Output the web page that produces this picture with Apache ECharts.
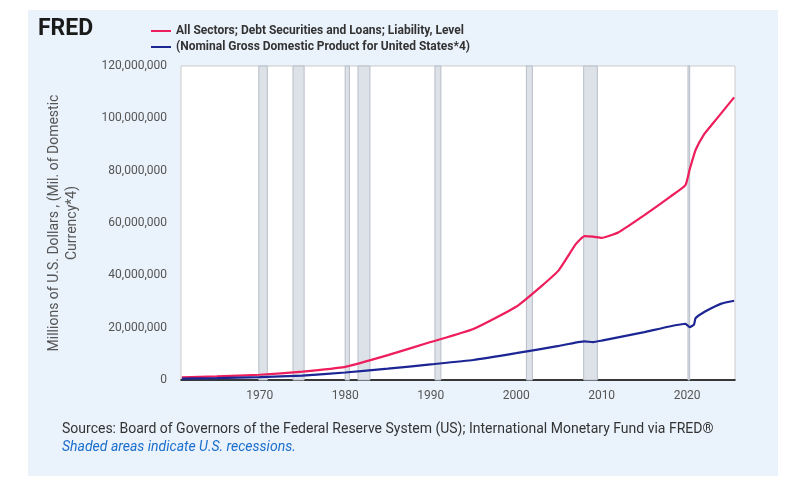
<!DOCTYPE html>
<html><head><meta charset="utf-8">
<script src="https://cdn.jsdelivr.net/npm/echarts@6/dist/echarts.min.js"></script>
<style>body{margin:0;background:#fff}#c{width:805px;height:491px}</style>
</head><body><div id="c"></div>
<script>
var debtYears = [1960.9,1965,1970,1975,1980,1985,1990,1995,2000,2003,2005,2007,2008,2009,2010,2012,2015,2018,2019.8,2020.3,2021,2022,2023,2024,2025.5];
var debtValues = [1.0,1.4,2.0,3.2,5.0,9.5,14.5,19.5,28,36,42,52,55,54.8,54.3,56.5,63,70,74.5,80.5,88,94,98,102,108];
var gdpYears = [1960.9,1965,1970,1975,1980,1985,1990,1995,2000,2005,2008,2009,2010,2015,2019.8,2020.3,2020.8,2021,2022,2023,2024,2025.5];
var gdpValues = [0.55,0.74,1.07,1.68,2.86,4.34,5.96,7.64,10.25,13.04,14.77,14.48,15.05,18.3,21.5,20.2,21.2,23.7,26.0,27.7,29.2,30.3];
var recessions = [[1969.9,1970.9],[1973.9,1975.2],[1980.0,1980.5],[1981.5,1982.9],[1990.5,1991.2],[2001.2,2001.9],[2007.9,2009.5],[2020.1,2020.3]];
var xTicks = [1970,1980,1990,2000,2010,2020];

function pairs(xs, ys){ return xs.map(function(x,i){ return [x, ys[i]*1e6]; }); }
var chart = echarts.init(document.getElementById('c'));
chart.setOption({
  backgroundColor: '#fff',
  graphic: [
    {type:'rect', shape:{x:28,y:10,width:750,height:466}, style:{fill:'#eaf2fb'}, z:-10},
    {type:'text', left:38, top:18, style:{text:'FRED', font:'bold 23px Roboto', fill:'#1a1a1a'}},
    {type:'text', left:62, top:422, style:{text:'Sources: Board of Governors of the Federal Reserve System (US); International Monetary Fund via FRED®', font:'14px Roboto', fill:'#333'}},
    {type:'text', left:62, top:440, style:{text:'Shaded areas indicate U.S. recessions.', font:'italic 14px Roboto', fill:'#1a6ecc'}}
  ],
  legend: {
    orient:'vertical', left:146, top:20, itemWidth:20, itemHeight:2, itemGap:4,
    textStyle:{fontFamily:'Roboto', fontWeight:'bold', fontSize:12, color:'#333'},
    icon:'rect'
  },
  grid: {left:181, right:70, top:66, bottom:111, show:true, backgroundColor:'#fff', borderColor:'#ccc'},
  xAxis: {
    type:'value', min:1960.8, max:2025.6,
    axisLine:{lineStyle:{color:'#000', width:1.5}},
    axisTick:{show:false},
    splitLine:{show:false},
    axisLabel:{customValues:xTicks, color:'#555', fontFamily:'Roboto', fontSize:12, margin:10,
      formatter:function(v){ return String(v); }}
  },
  yAxis: {
    type:'value', min:0, max:120e6, interval:20e6,
    name:'Millions of U.S. Dollars , (Mil. of Domestic\nCurrency*4)',
    nameLocation:'middle', nameGap:100,
    nameTextStyle:{color:'#555', fontFamily:'Roboto', fontSize:14, align:'center', lineHeight:18},
    axisLine:{show:false},
    axisTick:{show:false},
    splitLine:{show:false},
    axisLabel:{color:'#555', fontFamily:'Roboto', fontSize:12, margin:14,
      formatter:function(v){ return v.toLocaleString('en-US'); }}
  },
  series: [
    {name:'All Sectors; Debt Securities and Loans; Liability, Level', type:'line', smooth:0.15,
     showSymbol:false, data:pairs(debtYears, debtValues), color:'#ee1d5c', lineStyle:{width:2.2},
     markArea:{silent:true, itemStyle:{color:'#dde2e9', borderColor:'#b8bec7', borderWidth:1},
       data:recessions.map(function(r){ return [{xAxis:r[0]},{xAxis:r[1]}]; })}},
    {name:'(Nominal Gross Domestic Product for United States*4)', type:'line', smooth:0.15,
     showSymbol:false, data:pairs(gdpYears, gdpValues), color:'#1c2594', lineStyle:{width:2.2}}
  ]
});
</script></body></html>
